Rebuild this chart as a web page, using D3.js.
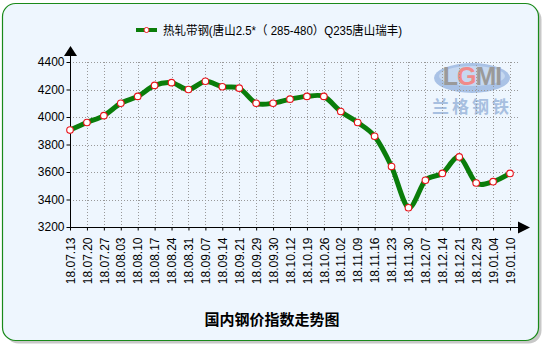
<!DOCTYPE html>
<html>
<head>
<meta charset="utf-8">
<script src="https://cdn.jsdelivr.net/npm/d3@7"></script>
<style>
  body { margin: 0; background: #fff; }
  svg text { font-family: Arial, "Liberation Sans", "Noto Sans CJK SC", sans-serif; }
</style>
</head>
<body>
<svg id="chart" width="545" height="346"></svg>
<script>
// weekly price index, hot rolled strip
var dates = ["18.07.13", "18.07.20", "18.07.27", "18.08.03", "18.08.10", "18.08.17", "18.08.24",
    "18.08.31", "18.09.07", "18.09.14", "18.09.21", "18.09.29", "18.09.30", "18.10.12", "18.10.19",
    "18.10.26", "18.11.02", "18.11.09", "18.11.16", "18.11.23", "18.11.30", "18.12.07", "18.12.14",
    "18.12.21", "18.12.29", "19.01.04", "19.01.10"];
var prices = [3905, 3960, 4010, 4100, 4150, 4230, 4250, 4200, 4260, 4220, 4210, 4100, 4100, 4130,
    4150, 4150, 4040, 3960, 3860, 3640, 3340, 3540, 3590, 3710, 3520, 3530, 3590];
var yTicks = [3200, 3400, 3600, 3800, 4000, 4200, 4400];
var seriesName = "热轧带钢(唐山2.5*（ 285-480）Q235唐山瑞丰)";
var chartTitle = "国内钢价指数走势图";

var svg = d3.select("#chart");

// frame with shadow
svg.append("rect")
    .attr("x", 5.5).attr("y", 6.5)
    .attr("width", 536).attr("height", 337)
    .attr("rx", 13)
    .style("fill", "#c8c8c8");
svg.append("rect")
    .attr("x", 2.5).attr("y", 3.5)
    .attr("width", 536).attr("height", 337)
    .attr("rx", 13)
    .style("fill", "#eef6fe")
    .style("stroke", "#1a8a1a")
    .style("stroke-width", 1.2);

var x = d3.scalePoint().domain(dates).range([70, 510]);
var y = d3.scaleLinear().domain([3200, 4400]).range([227, 62]);

// watermark logo
var logo = svg.append("g");
logo.append("ellipse")
    .attr("cx", 472).attr("cy", 78)
    .attr("rx", 38).attr("ry", 15)
    .style("fill", "#a9c2e6");
logo.append("ellipse")
    .attr("cx", 472).attr("cy", 76)
    .attr("rx", 33).attr("ry", 10)
    .style("fill", "#c6d8f0");
var lgmi = logo.append("text")
    .attr("x", 472).attr("y", 85)
    .attr("text-anchor", "middle")
    .style("font-size", "25px")
    .style("font-weight", "bold")
    .style("letter-spacing", "-1px");
lgmi.append("tspan").text("L").style("fill", "#9a9a9a");
lgmi.append("tspan").text("G").style("fill", "#f08a8a");
lgmi.append("tspan").text("MI").style("fill", "#9a9a9a");
logo.append("text")
    .attr("x", 472).attr("y", 113)
    .attr("text-anchor", "middle")
    .style("font-family", "'Noto Sans CJK SC'")
    .style("font-size", "17px")
    .style("font-weight", "bold")
    .style("letter-spacing", "3px")
    .style("fill", "#a7bfe0")
    .text("兰格钢铁");

// grid
svg.selectAll(".hgrid")
    .data(yTicks.slice(1))
    .enter().append("line")
    .attr("x1", 70).attr("x2", 520)
    .attr("y1", function (d) { return Math.round(y(d)) + 0.5; })
    .attr("y2", function (d) { return Math.round(y(d)) + 0.5; })
    .style("stroke", "#999")
    .style("stroke-dasharray", "1,2");
svg.selectAll(".vgrid")
    .data(dates.slice(1))
    .enter().append("line")
    .attr("x1", function (d) { return Math.round(x(d)) + 0.5; })
    .attr("x2", function (d) { return Math.round(x(d)) + 0.5; })
    .attr("y1", 62).attr("y2", 227)
    .style("stroke", "#999")
    .style("stroke-dasharray", "1,2");

// axes
var yAxis = svg.append("g")
    .attr("transform", "translate(70.5,0)")
    .call(d3.axisLeft(y).tickValues(yTicks).tickFormat(d3.format("d")).tickSize(4).tickPadding(2));
yAxis.select(".domain").attr("d", "M0,47V227");
yAxis.selectAll("text").style("font-size", "12px").style("fill", "#000");

var xAxis = svg.append("g")
    .attr("transform", "translate(0,227.5)")
    .call(d3.axisBottom(x).tickSize(3).tickSizeOuter(0));
xAxis.select(".domain").attr("d", "M70,0H524");
xAxis.selectAll("text")
    .style("font-size", "12px")
    .style("fill", "#000")
    .attr("transform", "rotate(-90)")
    .attr("text-anchor", "end")
    .attr("x", -10).attr("y", 0).attr("dy", "0.35em");

// arrows
svg.append("path").attr("d", "M64,56L70.5,46L77,56Z").style("fill", "#000");
svg.append("path").attr("d", "M518,221.5L530,227.5L518,233.5Z").style("fill", "#000");

// series
var line = d3.line()
    .x(function (d, i) { return x(dates[i]); })
    .y(function (d) { return y(d); })
    .curve(d3.curveCardinal.tension(0.1));

svg.append("path")
    .datum(prices)
    .attr("d", line)
    .style("fill", "none")
    .style("stroke", "#0a7d0a")
    .style("stroke-width", 5)
    .style("stroke-linejoin", "round");

svg.selectAll(".dot")
    .data(prices)
    .enter().append("circle")
    .attr("cx", function (d, i) { return x(dates[i]); })
    .attr("cy", function (d) { return y(d); })
    .attr("r", 3.3)
    .style("fill", "#fff")
    .style("stroke", "#e8141c")
    .style("stroke-width", 1.1);

// legend
svg.append("line")
    .attr("x1", 136).attr("x2", 157)
    .attr("y1", 30).attr("y2", 30)
    .style("stroke", "#0a7d0a")
    .style("stroke-width", 4);
svg.append("circle")
    .attr("cx", 146.5).attr("cy", 30).attr("r", 2.5)
    .style("fill", "#fff")
    .style("stroke", "#e8141c");
svg.append("text")
    .attr("x", 163).attr("y", 34.5)
    .attr("textLength", 239)
    .attr("lengthAdjust", "spacingAndGlyphs")
    .style("font-size", "12px")
    .style("fill", "#000")
    .text(seriesName);

// title
svg.append("text")
    .attr("x", 272).attr("y", 325)
    .attr("text-anchor", "middle")
    .style("font-family", "'Noto Sans CJK SC'")
    .style("font-size", "15px")
    .style("font-weight", "bold")
    .style("fill", "#000")
    .text(chartTitle);
</script>
</body>
</html>
